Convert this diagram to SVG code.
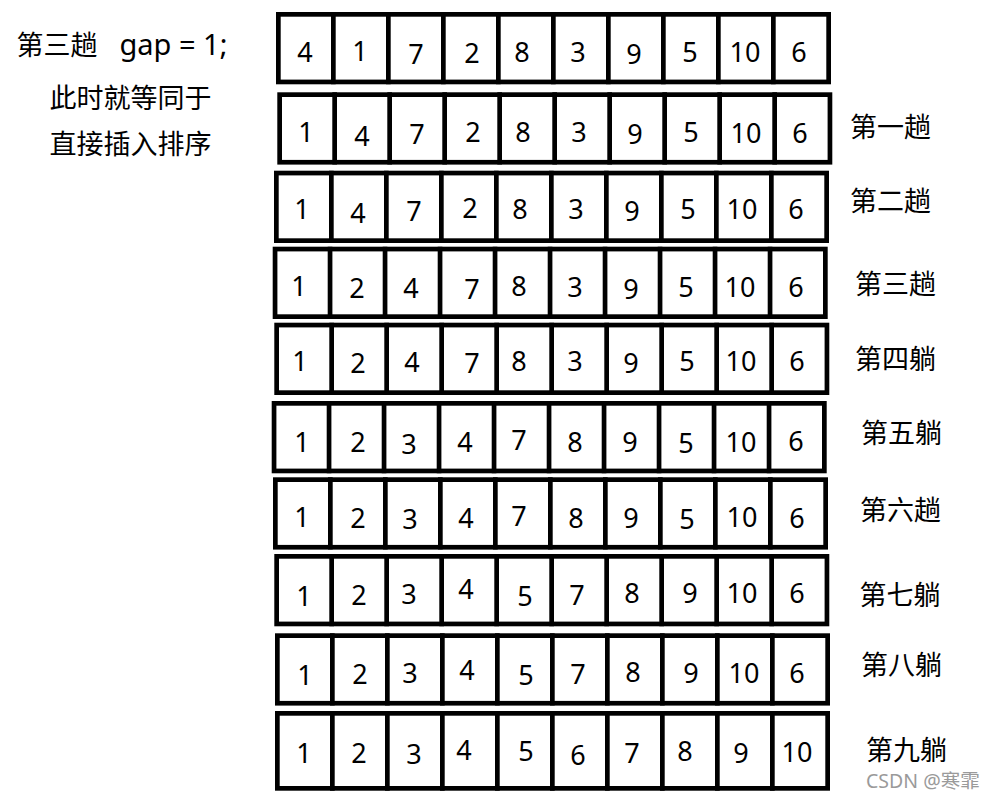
<svg xmlns="http://www.w3.org/2000/svg" xmlns:xlink="http://www.w3.org/1999/xlink" width="993" height="800" viewBox="0 0 993 800">
<style>
.box{fill:#fff;stroke:#000;stroke-width:4.7}
.dv{fill:none;stroke:#000;stroke-width:4.7}
.n{font-family:"Noto Sans","Noto Sans CJK SC",sans-serif;font-size:27px;fill:#000;text-anchor:middle}
.lbl{font-family:"Noto Sans CJK SC","Noto Sans",sans-serif;font-size:27px;fill:#000}
.gap{font-family:"Noto Sans","Noto Sans CJK SC",sans-serif;font-size:29px}
.wm{font-family:"Noto Sans","Noto Sans CJK SC",sans-serif;font-size:19.5px;fill:#9a9a9a}
</style>
<defs>
<g id="grid">
<rect class="box" x="2.35" y="2.35" width="550.3" height="67.6"/>
<path class="dv" d="M57.35 0V72.3M112.35 0V72.3M167.35 0V72.3M222.35 0V72.3M277.35 0V72.3M332.35 0V72.3M387.35 0V72.3M442.35 0V72.3M497.35 0V72.3"/>
</g>
<g id="grid10">
<rect class="box" x="2.35" y="2.35" width="550.3" height="75"/>
<path class="dv" d="M57.35 0V79.7M112.35 0V79.7M167.35 0V79.7M222.35 0V79.7M277.35 0V79.7M332.35 0V79.7M387.35 0V79.7M442.35 0V79.7M497.35 0V79.7"/>
</g>
</defs>
<rect width="993" height="800" fill="#fff"/>

<g id="note">
<text class="lbl" x="16.5" y="54.8">第三趟<tspan class="gap" x="119.5">gap = 1;</tspan></text>
<text class="lbl" x="49.5" y="108">此时就等同于</text>
<text class="lbl" x="49.5" y="154">直接插入排序</text>
</g>

<g id="row1">
<use xlink:href="#grid" x="276" y="12"/>
<text class="n" x="305" y="62.4">4</text><text class="n" x="360" y="61.3">1</text><text class="n" x="416" y="63.6">7</text><text class="n" x="472" y="62.6">2</text><text class="n" x="522" y="61.6">8</text><text class="n" x="578" y="61.6">3</text><text class="n" x="634" y="63.6">9</text><text class="n" x="690" y="62.4">5</text><text class="n" x="745" y="62.4">10</text><text class="n" x="799" y="61.6">6</text>
</g>

<g id="row2">
<use xlink:href="#grid" x="277.3" y="92.3"/>
<text class="n" x="306" y="142.1">1</text><text class="n" x="362" y="146.1">4</text><text class="n" x="417" y="144.3">7</text><text class="n" x="473" y="141.6">2</text><text class="n" x="523" y="142.1">8</text><text class="n" x="579" y="142.1">3</text><text class="n" x="635" y="143.6">9</text><text class="n" x="691" y="142.1">5</text><text class="n" x="746" y="142.6">10</text><text class="n" x="800" y="142.6">6</text>
</g>

<g id="row3">
<use xlink:href="#grid" x="274" y="170.7"/>
<text class="n" x="302" y="219.4">1</text><text class="n" x="358" y="222.6">4</text><text class="n" x="414" y="220.9">7</text><text class="n" x="470" y="218.1">2</text><text class="n" x="520" y="219.4">8</text><text class="n" x="576" y="219.4">3</text><text class="n" x="632" y="221.4">9</text><text class="n" x="688" y="219.4">5</text><text class="n" x="742" y="219.4">10</text><text class="n" x="796" y="219.4">6</text>
</g>

<g id="row4">
<use xlink:href="#grid" x="272.7" y="246.7"/>
<text class="n" x="299" y="296.1">1</text><text class="n" x="357" y="297.6">2</text><text class="n" x="411" y="297.6">4</text><text class="n" x="472" y="298.6">7</text><text class="n" x="519" y="296.1">8</text><text class="n" x="575" y="297.1">3</text><text class="n" x="631" y="298.6">9</text><text class="n" x="686" y="297.1">5</text><text class="n" x="740" y="297.1">10</text><text class="n" x="796" y="297.1">6</text>
</g>

<g id="row5">
<use xlink:href="#grid" x="274.3" y="322.7"/>
<text class="n" x="300" y="371.4">1</text><text class="n" x="358" y="372.8">2</text><text class="n" x="412" y="372.4">4</text><text class="n" x="472" y="372.8">7</text><text class="n" x="519" y="370.8">8</text><text class="n" x="575" y="371.4">3</text><text class="n" x="631" y="372.8">9</text><text class="n" x="687" y="371.4">5</text><text class="n" x="741" y="371.4">10</text><text class="n" x="797" y="371.4">6</text>
</g>

<g id="row6">
<use xlink:href="#grid" x="271.7" y="401"/>
<text class="n" x="302" y="451.6">1</text><text class="n" x="358" y="451.9">2</text><text class="n" x="409" y="453.8">3</text><text class="n" x="465" y="451.9">4</text><text class="n" x="519" y="450.4">7</text><text class="n" x="575" y="451.9">8</text><text class="n" x="630" y="451.9">9</text><text class="n" x="686" y="452.9">5</text><text class="n" x="741" y="451.6">10</text><text class="n" x="796" y="451.3">6</text>
</g>

<g id="row7">
<use xlink:href="#grid" x="273" y="477.3"/>
<text class="n" x="302" y="527.4">1</text><text class="n" x="358" y="528.4">2</text><text class="n" x="410" y="529.3">3</text><text class="n" x="466" y="528.4">4</text><text class="n" x="519" y="526.3">7</text><text class="n" x="576" y="528.4">8</text><text class="n" x="631" y="527.9">9</text><text class="n" x="687" y="529.3">5</text><text class="n" x="742" y="527.1">10</text><text class="n" x="797" y="527.6">6</text>
</g>

<g id="row8">
<use xlink:href="#grid" x="274.3" y="554"/>
<text class="n" x="304" y="606.1">1</text><text class="n" x="359" y="604.6">2</text><text class="n" x="409" y="603.8">3</text><text class="n" x="466" y="598.8">4</text><text class="n" x="525" y="605.9">5</text><text class="n" x="577" y="604.6">7</text><text class="n" x="632" y="602.9">8</text><text class="n" x="690" y="603.4">9</text><text class="n" x="742" y="603.4">10</text><text class="n" x="797" y="603.4">6</text>
</g>

<g id="row9">
<use xlink:href="#grid" x="275" y="633.3"/>
<text class="n" x="305" y="685.4">1</text><text class="n" x="360" y="683.8">2</text><text class="n" x="410" y="682.6">3</text><text class="n" x="467" y="679.6">4</text><text class="n" x="526" y="684.6">5</text><text class="n" x="578" y="684.3">7</text><text class="n" x="633" y="682.3">8</text><text class="n" x="691" y="682.6">9</text><text class="n" x="744" y="682.6">10</text><text class="n" x="797" y="682.6">6</text>
</g>

<g id="row10">
<use xlink:href="#grid10" x="275" y="711"/>
<text class="n" x="304" y="762.9">1</text><text class="n" x="359" y="762.9">2</text><text class="n" x="414" y="763.6">3</text><text class="n" x="464" y="760.4">4</text><text class="n" x="526" y="761.3">5</text><text class="n" x="578" y="764.6">6</text><text class="n" x="632" y="762.9">7</text><text class="n" x="685" y="760.8">8</text><text class="n" x="741" y="763.1">9</text><text class="n" x="797" y="762.3">10</text>
</g>

<g id="labels">
<text class="lbl" x="850" y="137.3">第一趟</text>
<text class="lbl" x="850" y="211.3">第二趟</text>
<text class="lbl" x="855" y="294">第三趟</text>
<text class="lbl" x="855" y="368.7">第四躺</text>
<text class="lbl" x="861" y="443">第五躺</text>
<text class="lbl" x="860" y="519.7">第六趟</text>
<text class="lbl" x="859.5" y="604.7">第七躺</text>
<text class="lbl" x="861" y="674.7">第八躺</text>
<text class="lbl" x="866" y="759.7">第九躺</text>
</g>

<g id="watermark">
<text class="wm" x="866" y="788">CSDN @寒霏</text>
</g>
</svg>
